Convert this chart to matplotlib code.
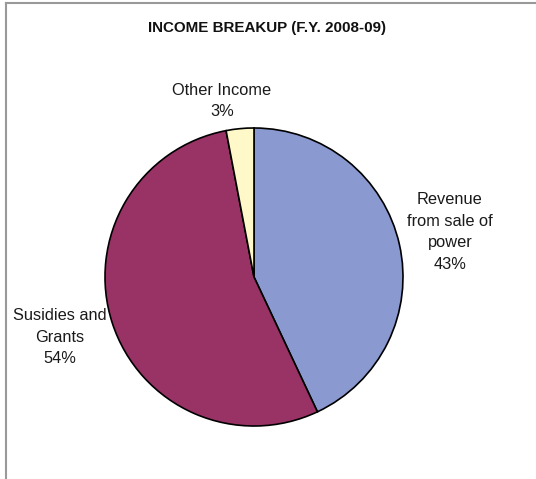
import matplotlib
matplotlib.use("Agg")
import matplotlib.pyplot as plt
from matplotlib.lines import Line2D

# data
categories = ["Revenue\nfrom sale of\npower", "Susidies and\nGrants", "Other Income"]
shares = [43, 54, 3]
colors = ["#8a99cf", "#993366", "#fff8c8"]
title = "INCOME BREAKUP (F.Y. 2008-09)"

W, H = 536, 479
cx, cy, r = 254, 277, 149          # pie centre / radius in pixels
# label centres in pixels (x, y from top)
label_px = [(450, 232), (60, 337), (222, 101)]

plt.rcParams["font.family"] = ["Liberation Sans", "DejaVu Sans"]
fig = plt.figure(figsize=(W / 100, H / 100), dpi=100)
ax = fig.add_axes([0, 0, 1, 1])

ax.pie(shares, colors=colors, startangle=90, counterclock=False,
       radius=1, center=(0, 0),
       wedgeprops=dict(edgecolor="black", linewidth=1.2))

ax.set_xlim(-cx / r, (W - cx) / r)
ax.set_ylim(-(H - cy) / r, cy / r)
ax.set_aspect("auto")
ax.axis("off")

for name, val, (px, py) in zip(categories, shares, label_px):
    ax.text((px - cx) / r, (cy - py) / r, f"{name}\n{val}%",
            ha="center", va="center", fontsize=11.8, color="#1a1a1a",
            linespacing=1.55)

fig.text(267 / W, 1 - 28 / H, title, ha="center", va="center",
         fontsize=10.9, fontweight="bold", color="#111111")

# chart frame (only top and left visible in the crop)
fig.add_artist(Line2D([6 / W, 1], [1 - 3 / H, 1 - 3 / H], color="#999999", lw=1.5))
fig.add_artist(Line2D([6 / W, 6 / W], [1 - 3 / H, 0], color="#999999", lw=1.5))

fig.savefig("out.png", dpi=100)
